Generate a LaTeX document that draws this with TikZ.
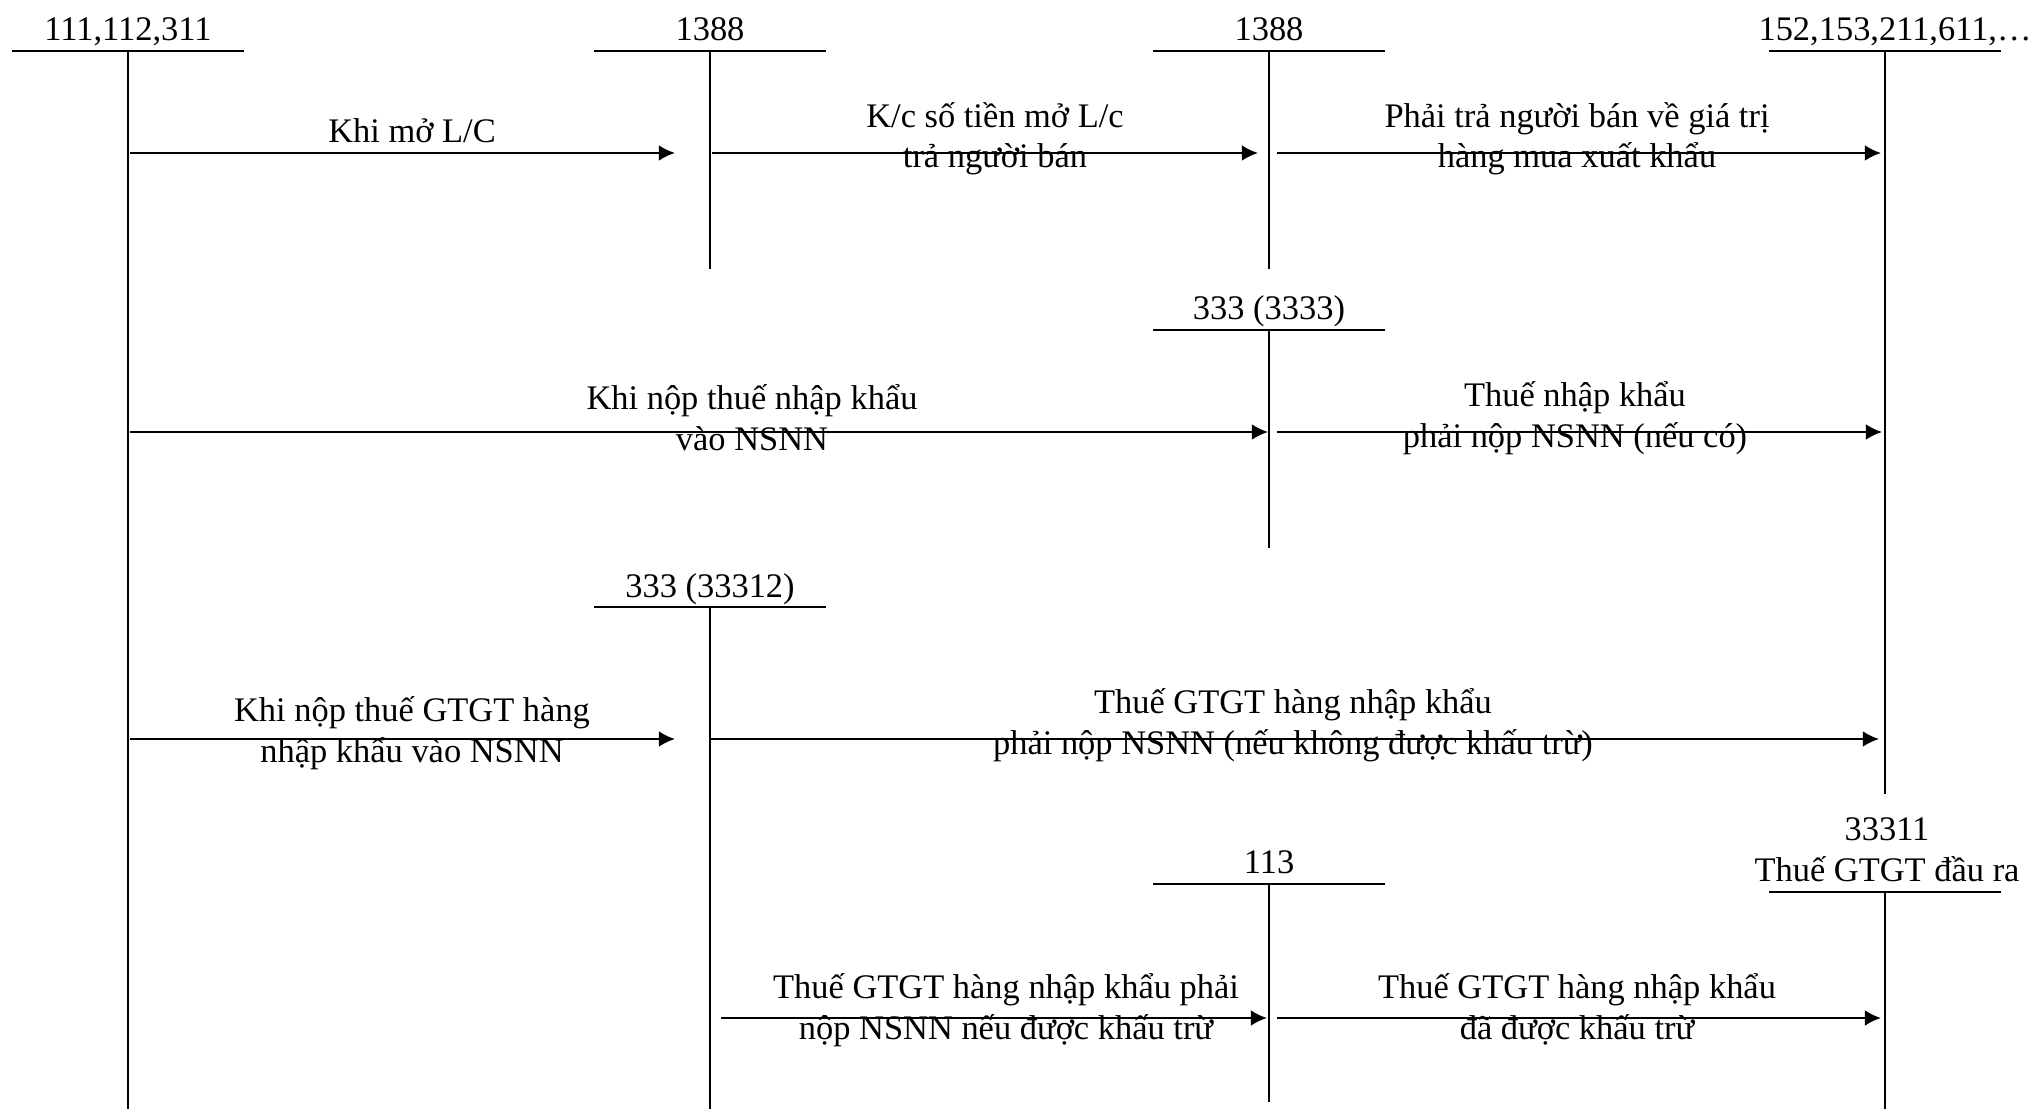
\documentclass[tikz,border=0pt]{standalone}
\usepackage{fontspec}
\setmainfont{Liberation Serif}
\usetikzlibrary{arrows.meta, calc, positioning}

\begin{document}
\begin{tikzpicture}[>={Latex[length=4.6pt,width=4.5pt]},
    font=\fontsize{9.8pt}{11.4pt}\selectfont,
    acc/.style={inner sep=0pt, anchor=base, align=center},
    tk/.style={line width=0.45pt},
    hdr/.style={line width=0.55pt},
    flow/.style={->, line width=0.65pt}]
    \useasboundingbox (0,0) rectangle (20.33,-11.09);

    % Đầu và chân các tài khoản chữ T
    \coordinate (t1) at (1.28,-0.51);   \coordinate (b1) at (1.28,-11.09);
    \coordinate (t2) at (7.10,-0.51);   \coordinate (b2) at (7.10,-2.69);
    \coordinate (t3) at (12.69,-0.51);  \coordinate (b3) at (12.69,-2.69);
    \coordinate (t4) at (18.85,-0.51);  \coordinate (b4) at (18.85,-7.94);
    \coordinate (t5) at (12.69,-3.30);  \coordinate (b5) at (12.69,-5.48);
    \coordinate (t6) at (7.10,-6.07);   \coordinate (b6) at (7.10,-11.09);
    \coordinate (t7) at (12.69,-8.84);  \coordinate (b7) at (12.69,-11.02);
    \coordinate (t8) at (18.85,-8.92);  \coordinate (b8) at (18.85,-11.09);

    \foreach \t/\b in {t1/b1, t2/b2, t3/b3, t4/b4, t5/b5, t6/b6, t7/b7, t8/b8} {
        \draw[hdr] ($(\t)+(-1.16,0)$) -- ($(\t)+(1.16,0)$);
        \draw[tk] (\t) -- (\b);
    }

    % Tên tài khoản
    \node[acc] (h1) at (1.28,-0.41) {111,112,311};
    \node[acc] (h2) at (7.10,-0.41) {1388};
    \node[acc] (h3) at (12.69,-0.41) {1388};
    \node[acc] (h4) at (18.95,-0.41) {152,153,211,611,…};
    \node[acc] (h5) at (12.69,-3.20) {333 (3333)};
    \node[acc] (h6) at (7.10,-5.97) {333 (33312)};
    \node[acc] (h7) at (12.69,-8.73) {113};
    \node[acc] (h8) at (18.87,-8.81) {33311\\Thuế GTGT đầu ra};

    % Các dòng nghiệp vụ
    \coordinate (r1) at (0,-1.53);
    \coordinate (r2) at (0,-4.32);
    \coordinate (r3) at (0,-7.39);
    \coordinate (r4) at (0,-10.18);

    \draw[flow] ($(t1 |- r1)+(0.02,0)$) -- ($(t2 |- r1)+(-0.35,0)$);
    \draw[flow] ($(t2 |- r1)+(0.02,0)$) -- ($(t3 |- r1)+(-0.11,0)$);
    \draw[flow] ($(t3 |- r1)+(0.08,0)$) -- ($(t4 |- r1)+(-0.04,0)$);

    \draw[flow] ($(t1 |- r2)+(0.02,0)$) -- ($(t3 |- r2)+(-0.01,0)$);
    \draw[flow] ($(t3 |- r2)+(0.08,0)$) -- ($(t4 |- r2)+(-0.03,0)$);

    \draw[flow] ($(t1 |- r3)+(0.02,0)$) -- ($(t2 |- r3)+(-0.35,0)$);
    \draw[flow] ($(t2 |- r3)+(0.01,0)$) -- ($(t4 |- r3)+(-0.06,0)$);

    \draw[flow] ($(t2 |- r4)+(0.11,0)$) -- ($(t3 |- r4)+(-0.02,0)$);
    \draw[flow] ($(t3 |- r4)+(0.08,0)$) -- ($(t4 |- r4)+(-0.04,0)$);

    % Nội dung nghiệp vụ
    \node[acc] (l1) at (4.12,-1.43) {Khi mở L/C};
    \node[acc] (l2) at (9.95,-1.68) {K/c số tiền mở L/c\\trả người bán};
    \node[acc] (l3) at (15.77,-1.68) {Phải trả người bán về giá trị\\hàng mua xuất khẩu};
    \node[acc] (l4) at (7.52,-4.50) {Khi nộp thuế nhập khẩu\\vào NSNN};
    \node[acc] (l5) at (15.75,-4.47) {Thuế nhập khẩu\\phải nộp NSNN (nếu có)};
    \node[acc] (l6) at (4.12,-7.62) {Khi nộp thuế GTGT hàng\\nhập khẩu vào NSNN};
    \node[acc] (l7) at (12.93,-7.54) {Thuế GTGT hàng nhập khẩu\\phải nộp NSNN (nếu không được khấu trừ)};
    \node[acc] (l8) at (10.06,-10.39) {Thuế GTGT hàng nhập khẩu phải\\nộp NSNN nếu được khấu trừ};
    \node[acc] (l9) at (15.77,-10.39) {Thuế GTGT hàng nhập khẩu\\đã được khấu trừ};
\end{tikzpicture}
\end{document}
